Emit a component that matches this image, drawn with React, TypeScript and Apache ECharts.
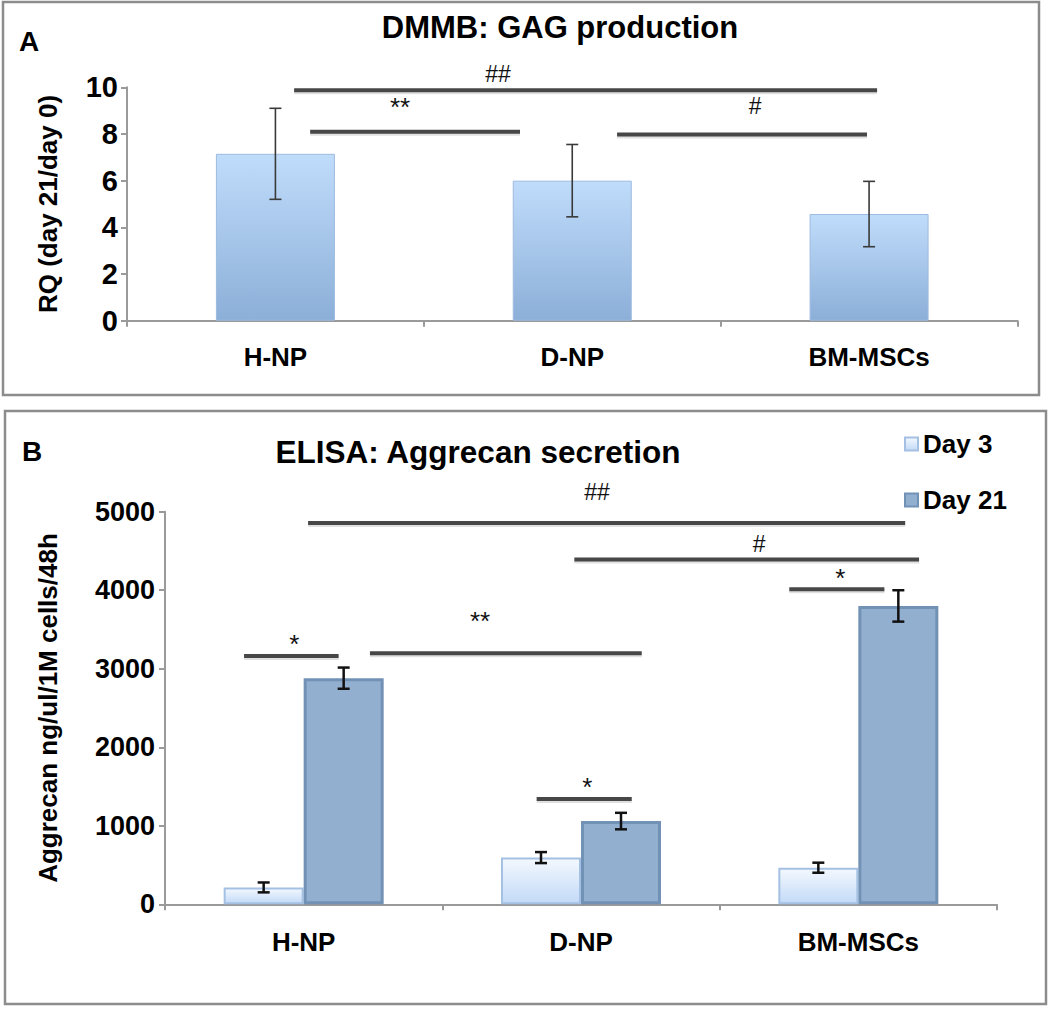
import React, { useEffect, useRef } from 'react';
import * as echarts from 'echarts';

// ---------- data ----------
const categories = ['H-NP', 'D-NP', 'BM-MSCs'];

// Panel A: DMMB GAG production (RQ day 21 / day 0)
const gagValues = [7.15, 6.0, 4.57];
const gagErrors = [1.95, 1.55, 1.4];
const gagAxis = { min: 0, max: 10, interval: 2 };

// Panel B: ELISA aggrecan secretion
const seriesNames = ['Day 3', 'Day 21'];
const day3Values = [215, 595, 466];
const day3Errors = [63, 70, 64];
const day21Values = [2880, 1060, 3800];
const day21Errors = [135, 105, 200];
const aggrecanAxis = { min: 0, max: 5000, interval: 1000 };

// significance brackets: [label, fromX, toX, lineY, labelX, labelY] (x in category units 0..3)
const gagSignificance: [string, number, number, number, number, number][] = [
  ['##', 0.563, 2.527, 9.87, 1.25, 10.57],
  ['**', 0.617, 1.324, 8.1, 0.92, 9.16],
  ['#', 1.651, 2.493, 7.98, 2.116, 9.2],
];
const aggrecanSignificance: [string, number, number, number, number, number][] = [
  ['##', 0.516, 2.669, 4856, 1.558, 5251],
  ['#', 1.476, 2.719, 4390, 2.142, 4589],
  ['*', 2.251, 2.594, 4012, 2.435, 4160],
  ['*', 0.285, 0.626, 3162, 0.466, 3315],
  ['**', 0.739, 1.719, 3197, 1.136, 3608],
  ['*', 1.34, 1.683, 1341, 1.523, 1498],
];

// ---------- styles ----------
const FONT = '"Liberation Sans", Arial, Helvetica, sans-serif';
const AXIS_GRAY = '#9a9a9a';
const BAR_B = 80;

function makeSigRender(sig: [string, number, number, number, number, number][]) {
  return (params: any, api: any) => {
    const p1 = api.coord([api.value(0), api.value(2)]);
    const p2 = api.coord([api.value(1), api.value(2)]);
    const pl = api.coord([api.value(3), api.value(4)]);
    const label = sig[params.dataIndex][0];
    const isStar = label.indexOf('*') >= 0;
    return {
      type: 'group',
      children: [
        {
          type: 'rect',
          shape: { x: p1[0], y: p1[1] + 1, width: p2[0] - p1[0], height: 3 },
          style: { fill: 'rgba(0,0,0,0.12)' },
        },
        {
          type: 'rect',
          shape: { x: p1[0], y: p1[1] - 2, width: p2[0] - p1[0], height: 4 },
          style: { fill: '#474747' },
        },
        {
          type: 'text',
          x: pl[0],
          y: pl[1],
          style: {
            text: label,
            fill: '#111',
            fontSize: isStar ? 26 : 23,
            fontFamily: FONT,
            align: 'center',
            verticalAlign: 'middle',
          },
        },
      ],
    };
  };
}

function makeErrRender(offset: number, color: string, width: number, cap: number) {
  return (params: any, api: any) => {
    const x = api.value(0);
    const v = api.value(1);
    const e = api.value(2);
    const top = api.coord([x, v + e]);
    const bot = api.coord([x, v - e]);
    const cx = top[0] + offset;
    const st = { stroke: color, lineWidth: width };
    return {
      type: 'group',
      children: [
        { type: 'line', shape: { x1: cx, y1: top[1], x2: cx, y2: bot[1] }, style: st },
        { type: 'line', shape: { x1: cx - cap, y1: top[1], x2: cx + cap, y2: top[1] }, style: st },
        { type: 'line', shape: { x1: cx - cap, y1: bot[1], x2: cx + cap, y2: bot[1] }, style: st },
      ],
    };
  };
}

const boldText = (size: number) => ({
  fontSize: size,
  fontWeight: 'bold' as const,
  fontFamily: FONT,
  color: '#000',
});

function axisCommon() {
  return {
    axisLine: { show: true, lineStyle: { color: AXIS_GRAY, width: 2 } },
    axisTick: { show: true, length: 6, lineStyle: { color: AXIS_GRAY, width: 2 } },
    splitLine: { show: false },
  };
}

const plain = (v: number) => String(v);

export default function App() {
  const ref = useRef<HTMLDivElement>(null);

  useEffect(() => {
    if (!ref.current) return;
    const chart = echarts.init(ref.current, undefined, { renderer: 'svg' });

    const gradA = new echarts.graphic.LinearGradient(0, 0, 0, 1, [
      { offset: 0, color: '#c0dcfb' },
      { offset: 1, color: '#8cafd8' },
    ]);
    const grad3 = new echarts.graphic.LinearGradient(0, 0, 0, 1, [
      { offset: 0, color: '#f3f8fe' },
      { offset: 1, color: '#c3daf7' },
    ]);

    const option: any = {
      animation: false,
      backgroundColor: '#fff',
      grid: [
        { left: 127, top: 87.3, width: 890.5, height: 233.4 },
        { left: 165, top: 511.7, width: 832, height: 392.6 },
      ],
      xAxis: [
        {
          type: 'category',
          gridIndex: 0,
          data: categories,
          ...axisCommon(),
          axisLabel: { ...boldText(26), margin: 23 },
        },
        { type: 'value', gridIndex: 0, min: 0, max: 3, show: false },
        {
          type: 'category',
          gridIndex: 1,
          data: categories,
          ...axisCommon(),
          axisLabel: { ...boldText(26), margin: 25 },
        },
        { type: 'value', gridIndex: 1, min: 0, max: 3, show: false },
      ],
      yAxis: [
        {
          type: 'value',
          gridIndex: 0,
          min: gagAxis.min,
          max: gagAxis.max,
          interval: gagAxis.interval,
          ...axisCommon(),
          axisLabel: { ...boldText(29), margin: 9, formatter: plain },
        },
        {
          type: 'value',
          gridIndex: 1,
          min: aggrecanAxis.min,
          max: aggrecanAxis.max,
          interval: aggrecanAxis.interval,
          ...axisCommon(),
          axisLabel: { ...boldText(27), margin: 10, formatter: plain },
        },
      ],
      legend: {
        data: seriesNames,
        orient: 'vertical',
        left: 899,
        top: 426,
        icon: 'rect',
        itemWidth: 13,
        itemHeight: 13,
        itemGap: 30,
        textStyle: { ...boldText(26), lineHeight: 26 },
      },
      series: [
        {
          type: 'bar',
          name: 'GAG',
          xAxisIndex: 0,
          yAxisIndex: 0,
          data: gagValues,
          barWidth: 119,
          itemStyle: { color: gradA, borderColor: '#9dbbdf', borderWidth: 1 },
        },
        {
          type: 'custom',
          xAxisIndex: 0,
          yAxisIndex: 0,
          data: gagValues.map((v, i) => [i, v, gagErrors[i]]),
          renderItem: makeErrRender(0, '#3a3a3a', 1.6, 6),
          z: 5,
        },
        {
          type: 'custom',
          xAxisIndex: 1,
          yAxisIndex: 0,
          data: gagSignificance.map((s) => [s[1], s[2], s[3], s[4], s[5]]),
          renderItem: makeSigRender(gagSignificance),
          z: 6,
        },
        {
          type: 'bar',
          name: seriesNames[0],
          xAxisIndex: 2,
          yAxisIndex: 1,
          data: day3Values,
          barWidth: BAR_B,
          barGap: '0%',
          itemStyle: { color: grad3, borderColor: '#a4c0e3', borderWidth: 2 },
        },
        {
          type: 'bar',
          name: seriesNames[1],
          xAxisIndex: 2,
          yAxisIndex: 1,
          data: day21Values,
          barWidth: BAR_B,
          barGap: '0%',
          itemStyle: { color: '#93afd0', borderColor: '#7191b5', borderWidth: 3 },
        },
        {
          type: 'custom',
          xAxisIndex: 2,
          yAxisIndex: 1,
          data: day3Values.map((v, i) => [i, v, day3Errors[i]]),
          renderItem: makeErrRender(-BAR_B / 2, '#111', 2.5, 6),
          z: 5,
        },
        {
          type: 'custom',
          xAxisIndex: 2,
          yAxisIndex: 1,
          data: day21Values.map((v, i) => [i, v, day21Errors[i]]),
          renderItem: makeErrRender(BAR_B / 2, '#111', 2.5, 6),
          z: 5,
        },
        {
          type: 'custom',
          xAxisIndex: 3,
          yAxisIndex: 1,
          data: aggrecanSignificance.map((s) => [s[1], s[2], s[3], s[4], s[5]]),
          renderItem: makeSigRender(aggrecanSignificance),
          z: 6,
        },
      ],
      graphic: [
        {
          type: 'rect',
          shape: { x: 3, y: 2, width: 1036, height: 393 },
          style: { fill: 'none', stroke: '#8c8c8c', lineWidth: 2.5 },
          silent: true,
        },
        {
          type: 'rect',
          shape: { x: 5, y: 411, width: 1041, height: 593 },
          style: { fill: 'none', stroke: '#8c8c8c', lineWidth: 2.5 },
          silent: true,
        },
        {
          type: 'text',
          x: 29,
          y: 41,
          style: { text: 'A', fill: '#000', fontSize: 28, fontWeight: 'bold', fontFamily: FONT, align: 'center', verticalAlign: 'middle' },
        },
        {
          type: 'text',
          x: 32,
          y: 451,
          style: { text: 'B', fill: '#000', fontSize: 28, fontWeight: 'bold', fontFamily: FONT, align: 'center', verticalAlign: 'middle' },
        },
        {
          type: 'text',
          x: 560,
          y: 27,
          style: { text: 'DMMB: GAG production', fill: '#000', fontSize: 31, fontWeight: 'bold', fontFamily: FONT, align: 'center', verticalAlign: 'middle' },
        },
        {
          type: 'text',
          x: 478,
          y: 452,
          style: { text: 'ELISA: Aggrecan secretion', fill: '#000', fontSize: 31.5, fontWeight: 'bold', fontFamily: FONT, align: 'center', verticalAlign: 'middle' },
        },
        {
          type: 'text',
          x: 48,
          y: 204,
          rotation: Math.PI / 2,
          style: { text: 'RQ (day 21/day 0)', fill: '#000', fontSize: 26, fontWeight: 'bold', fontFamily: FONT, align: 'center', verticalAlign: 'middle' },
        },
        {
          type: 'text',
          x: 48,
          y: 708,
          rotation: Math.PI / 2,
          style: { text: 'Aggrecan ng/ul/1M cells/48h', fill: '#000', fontSize: 26, fontWeight: 'bold', fontFamily: FONT, align: 'center', verticalAlign: 'middle' },
        },
      ],
    };

    chart.setOption(option);
    return () => chart.dispose();
  }, []);

  return (
    <div
      ref={ref}
      style={{ position: 'absolute', left: 0, top: 0, width: 1050, height: 1009, background: '#fff' }}
    />
  );
}
